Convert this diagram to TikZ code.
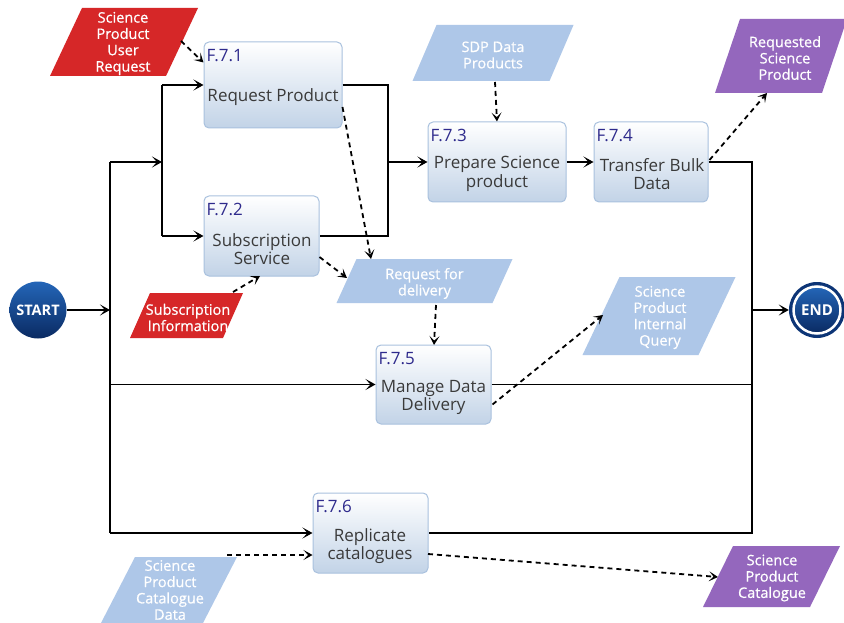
\documentclass[tikz,border=0pt]{standalone}
\usepackage{fontspec}
\setmainfont{Open Sans}
\newfontfamily\pfont[FakeBold=0.7]{Open Sans}
\usetikzlibrary{arrows.meta,calc}

\definecolor{redp}{HTML}{D62728}
\definecolor{bluep}{HTML}{AEC7E8}
\definecolor{purp}{HTML}{9467BD}
\definecolor{boxborder}{HTML}{A9C1DE}
\definecolor{boxbottom}{HTML}{C2D3E7}
\definecolor{labelc}{HTML}{2E2A8C}
\definecolor{textc}{HTML}{3A3A3A}
\definecolor{circtop}{HTML}{2466B8}
\definecolor{circbot}{HTML}{0A2A62}
\definecolor{endouter}{HTML}{0D3576}

\newcommand{\paragram}[9]{%
  \fill[#7] ({#2-#4+#6},{#3-#5}) -- ({#2+#4+#6},{#3-#5}) -- ({#2+#4-#6},{#3+#5}) -- ({#2-#4-#6},{#3+#5}) -- cycle;
  \node[ptext] (#1) at ($(#2,#3)+(#8)$) {#9};
}

\begin{document}
\begin{tikzpicture}[x=1pt,y=-1pt,
  box/.style={draw=boxborder, line width=1pt, rounded corners=5pt, top color=white, bottom color=boxbottom, inner sep=0pt},
  lbl/.style={anchor=base west, text=labelc, font=\fontsize{17}{18}\selectfont, inner sep=0pt},
  btext/.style={text=textc, align=center, font=\fontsize{17}{18.5}\selectfont, inner sep=0pt},
  ptext/.style={text=white, align=center, font=\pfont\fontsize{14.5}{16.3}\selectfont, inner sep=0pt},
  flow/.style={line width=1.9pt},
  arr/.style={line width=1.9pt, -{Stealth[length=10pt,width=11pt,inset=5pt]}},
  darr/.style={line width=1.8pt, dash pattern=on 5pt off 4pt, -{Stealth[length=9pt,width=10pt,inset=4.5pt]}},
  circnode/.style={circle, inner sep=0pt, top color=circtop, bottom color=circbot, text=white, font=\bfseries\fontsize{14.5}{15}\selectfont}
]
\fill[white] (0,0) rectangle (844,623);
\useasboundingbox (0,0) rectangle (844,623);

% process boxes
\node[box, minimum width=138pt, minimum height=86pt] (f71) at (273,85) {};
\node[box, minimum width=115pt, minimum height=80pt] (f72) at (261.5,236) {};
\node[box, minimum width=138pt, minimum height=80pt] (f73) at (497,162) {};
\node[box, minimum width=114pt, minimum height=80pt] (f74) at (651,162) {};
\node[box, minimum width=115pt, minimum height=79pt] (f75) at (433.5,384.5) {};
\node[box, minimum width=115pt, minimum height=80pt] (f76) at (370.5,533) {};

\node[lbl] (l71) at ($(f71.north west)+(3,20)$) {F.7.1};
\node[lbl] (l72) at ($(f72.north west)+(3,20)$) {F.7.2};
\node[lbl] (l73) at ($(f73.north west)+(3,20)$) {F.7.3};
\node[lbl] (l74) at ($(f74.north west)+(3,20)$) {F.7.4};
\node[lbl] (l75) at ($(f75.north west)+(3,20)$) {F.7.5};
\node[lbl] (l76) at ($(f76.north west)+(3,20)$) {F.7.6};

\node[btext] (t71) at (273,97) {Request Product};
\node[btext] (t72) at (262,249) {Subscription\\Service};
\node[btext] (t73) at (497,174) {Prepare Science\\product};
\node[btext] (t74) at (652,174) {Transfer Bulk\\Data};
\node[btext] (t75) at (433.5,397.5) {Manage Data\\Delivery};
\node[btext] (t76) at (370,546) {Replicate\\catalogues};

% start / end
\node[circnode, minimum size=57pt] (start) at (38,310) {START};
\node[circle, fill=endouter, minimum size=56pt, inner sep=0pt] (end) at (817,310) {};
\node[circnode, minimum size=47pt, draw=white, line width=2.5pt, font=\bfseries\fontsize{15}{16}\selectfont] (endin) at (end) {END};

% data parallelograms
\paragram{p1}{124}{42}{58}{34}{16}{redp}{-1,1.5}{Science\\Product\\User\\Request}
\paragram{p2}{493}{53}{68.5}{28}{12}{bluep}{0,2}{SDP Data\\Products}
\paragram{p3}{781}{56}{53.5}{37}{12.5}{purp}{4,2}{Requested\\Science\\Product}
\paragram{p4}{424.5}{281}{78}{22}{10}{bluep}{0,2.5}{Request for\\delivery}
\paragram{p5}{186.5}{315.5}{46.5}{22.5}{10}{redp}{1.5,2}{Subscription\\Information}
\paragram{p6}{659}{316}{58}{39}{18.5}{bluep}{1,1.5}{Science\\Product\\Internal\\Query}
\paragram{p7}{169}{590}{51}{33}{17}{bluep}{1,0}{Science\\Product\\Catalogue\\Data}
\paragram{p8}{771.5}{576.5}{53.5}{30.5}{15}{purp}{0.5,1.5}{Science\\Product\\Catalogue}

% junction coordinates
\coordinate (jt) at (110,162);
\coordinate (js) at (162,162);
\coordinate (jm) at (388,162);
\coordinate (jr) at (752,162);

% solid flow
\draw[flow] (jt) -- (f76.west -| jt);
\draw[arr] (start.east) -- (start.east -| jt);
\draw[arr] (jt) -- (js);
\draw[flow] (f71.west -| js) -- (f72.west -| js);
\draw[arr] (f71.west -| js) -- (f71.west);
\draw[arr] (f72.west -| js) -- (f72.west);
\draw[flow] (f71.east) -| (jm) |- (f72.east);
\draw[arr] (jm) -- (f73.west);
\draw[arr] (f73.east) -- (f74.west);
\draw[flow] (f74.east) -- (jr) -- (f76.east -| jr) -- (f76.east);
\draw[arr] (end.west -| jr) -- (end.west);
\draw[arr] (f75.west -| jt) -- (f75.west);
\draw[flow] (f75.east) -- (f75.east -| jr);
\draw[arr] (f76.west -| jt) -- (f76.west);

% dashed data flow
\coordinate (d1a) at (181,41);
\coordinate (d1b) at ($(f71.north west)+(0,21)$);
\draw[darr] (d1a) -- (d1b);
\coordinate (d2a) at (495,82);
\draw[darr] (d2a) -- (f73.north);
\coordinate (d3a) at ($(f74.east)+(1,-2)$);
\coordinate (d3b) at (767,93);
\draw[darr] (d3a) -- (d3b);
\coordinate (d4a) at ($(f71.east)+(0,22)$);
\coordinate (d4b) at (371,259);
\draw[darr] (d4a) -- (d4b);
\coordinate (d5a) at ($(f72.east)+(0,21)$);
\coordinate (d5b) at (347,278);
\draw[darr] (d5a) -- (d5b);
\coordinate (d6a) at (233,292);
\coordinate (d6b) at (260,276);
\draw[darr] (d6a) -- (d6b);
\coordinate (d7a) at (436,305);
\coordinate (d7b) at (434,345);
\draw[darr] (d7a) -- (d7b);
\coordinate (d8a) at ($(f75.east)+(1,20)$);
\coordinate (d8b) at (603,315);
\draw[darr] (d8a) -- (d8b);
\coordinate (d9a) at (227,555);
\coordinate (d9b) at (f76.west |- d9a);
\draw[darr] (d9a) -- (d9b);
\coordinate (d10a) at (428,554);
\coordinate (d10b) at (718,577);
\draw[darr] (d10a) -- (d10b);
\end{tikzpicture}
\end{document}
